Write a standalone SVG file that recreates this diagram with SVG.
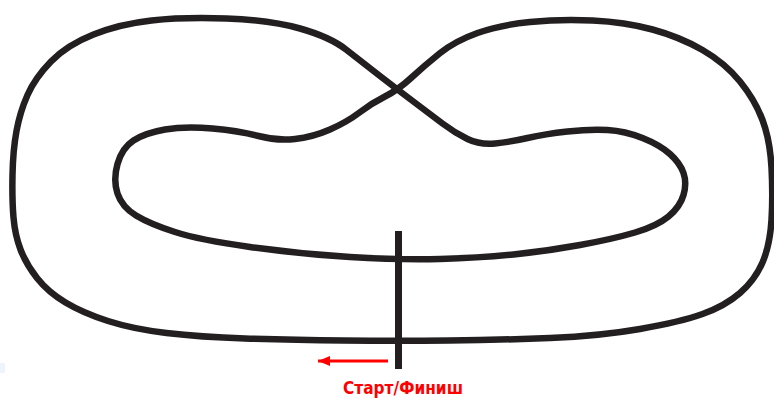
<svg xmlns="http://www.w3.org/2000/svg" width="774" height="399" viewBox="0 0 774 399">
<style>
.track{fill:none;stroke:#231f20;stroke-width:6.5;stroke-linejoin:round;stroke-linecap:round}
.bar{stroke:#231f20;stroke-width:7}
.red{stroke:#ff0000;stroke-width:3;fill:none}
.label{fill:#ff0000;font-family:"Liberation Sans Narrow","DejaVu Sans Condensed","Liberation Sans",sans-serif;font-weight:bold;font-size:18px}
</style>
<defs>
<marker id="ah" markerUnits="userSpaceOnUse" markerWidth="14" markerHeight="12" refX="12" refY="5" orient="auto">
<path d="M0,0 L12,5 L0,10 Z" fill="#ff0000"/>
</marker>
</defs>
<rect width="774" height="399" fill="#ffffff"/>
<rect x="0" y="363" width="5" height="10" fill="#eef4fc"/>
<g id="track">
<path class="track" d="M449,340.5 Q398,341 344,340.5 Q290,340 245,338.5 Q200,337 166.5,333 Q133,329 108,321 Q83,313 65.5,302.5 Q48,292 37,278 Q26,264 20.5,249.5 Q15,235 13.5,217.5 Q12,200 12.5,175 Q13,150 16.5,131 Q20,112 27.5,95 Q35,78 51,61.5 Q67,45 93.5,34.5 Q120,24 151.5,20.5 Q183,17 226.5,18.5 Q270,20 300,28.5 Q330,37 346,49.5 Q362,62 380,76 Q398,90 414,102 Q430,114 442.5,123.5 Q455,133 467.5,139 Q480,145 495,143.5 Q510,142 527.5,138 Q545,134 567.5,131.5 Q590,129 607.5,130 Q625,131 642.5,138 Q660,145 670,154 Q680,163 683.5,173 Q687,183 683.5,195 Q680,207 668.5,216.5 Q657,226 635,232.5 Q613,239 580,245 Q547,251 513.5,254.5 Q480,258 440,259 Q400,260 350,257 Q300,254 250,247 Q200,240 175,232 Q150,224 136,215.5 Q122,207 117.5,193.5 Q113,180 117.5,164 Q122,148 133.5,140.5 Q145,133 165,129.5 Q185,126 212.5,128.5 Q240,131 258.5,136 Q277,141 295,139 Q313,137 330,129.5 Q347,122 359.5,112.5 Q372,103 385,96.5 Q398,90 411,78 Q424,66 439.5,53.5 Q455,41 477.5,33 Q500,25 530,22 Q560,19 592.5,20.5 Q625,22 652.5,29.5 Q680,37 702.5,50 Q725,63 740,81.5 Q755,100 762.5,120 Q770,140 771.5,167.5 Q773,195 771.5,220 Q770,245 762.5,262.5 Q755,280 740,293 Q725,306 702.5,314 Q680,322 640,329 Q600,336 550,338 Q500,340 449,340.5 Z"/>
</g>
<g id="start-line">
<line class="bar" x1="398.5" y1="231" x2="398.5" y2="369"/>
</g>
<g id="connectors">
<line class="red" x1="388" y1="361" x2="318" y2="361" marker-end="url(#ah)"/>
</g>
<g id="label">
<text class="label" x="403" y="394" text-anchor="middle" textLength="120" lengthAdjust="spacingAndGlyphs">Старт/Финиш</text>
</g>
</svg>
